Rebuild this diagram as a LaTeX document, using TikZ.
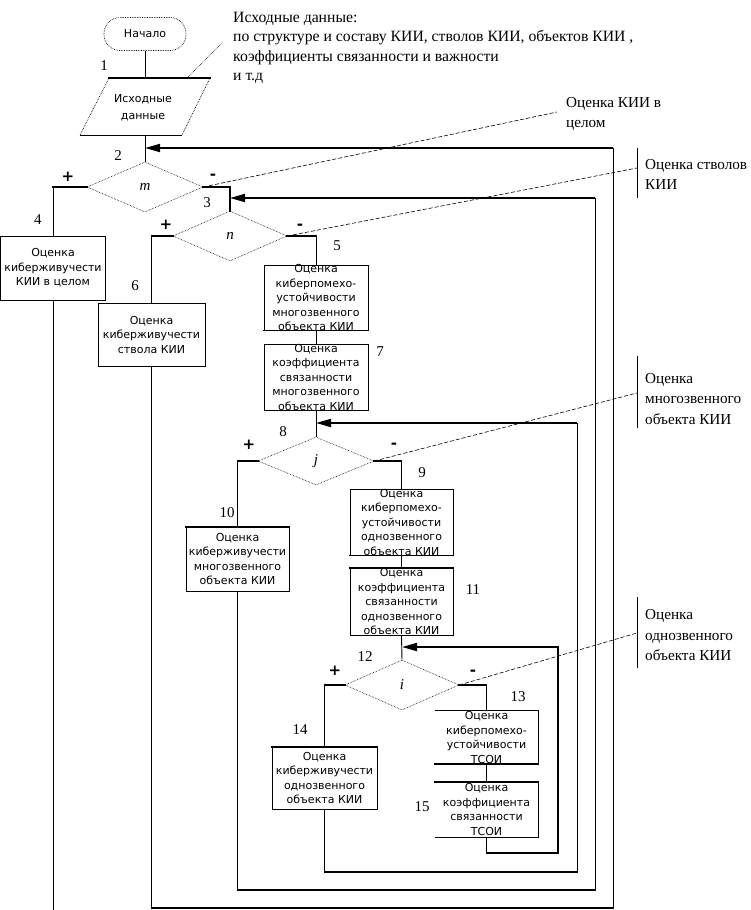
\documentclass[tikz,border=0pt]{standalone}
\usepackage{fontspec}
\setmainfont{Liberation Serif}
\newfontfamily\boxfont{DejaVu Sans}
\usetikzlibrary{shapes.geometric,arrows.meta}
\begin{document}
\begin{tikzpicture}[x=1pt,y=-1pt,
  box/.style={draw, line width=0.8pt, inner sep=0pt},
  nobox/.style={inner sep=0pt},
  edge/.style={line width=0.8pt},
  boxtxt/.style={font=\boxfont\fontsize{11}{14.5}\selectfont, align=center, inner sep=0pt},
  dia/.style={diamond, draw, densely dotted, line width=0.6pt, inner sep=0pt, font=\fontsize{15}{18}\selectfont\itshape},
  conn/.style={line width=0.9pt},
  thk/.style={line width=1.8pt, line cap=rect},
  arr/.style={line width=1.8pt, -{Triangle[length=15pt,width=8pt]}},
  lbl/.style={font=\fontsize{15}{18}\selectfont, inner sep=0pt},
  sgn/.style={font=\boxfont\fontsize{15}{18}\selectfont\bfseries, inner sep=0pt},
  call/.style={line width=0.6pt, dash pattern=on 4pt off 2pt},
  dotcall/.style={line width=0.7pt, densely dotted},
  bar/.style={line width=0.8pt},
  note/.style={font=\fontsize{15.2}{20.5}\selectfont, align=left, inner sep=0pt, anchor=west},
]
\useasboundingbox (0,0) rectangle (750,910);
\fill[white] (0,0) rectangle (750,910);

% ---------- start and data ----------
\node[draw, densely dotted, line width=0.7pt, rounded corners=16pt, minimum width=82pt, minimum height=33pt, inner sep=0pt, font=\boxfont\fontsize{11}{14}\selectfont] (start) at (145,34) {Начало};
\coordinate (pTL) at (109,78);
\coordinate (pTR) at (210,78);
\coordinate (pBR) at (182,135);
\coordinate (pBL) at (80,135);
\coordinate (dTop) at (145,78);
\coordinate (dBot) at (145,135);
\draw[thk] (pTL) -- (pTR);
\draw[conn] (pBL) -- (pBR);
\draw[dotcall] (pTL) -- (pBL) (pTR) -- (pBR);
\node[boxtxt, font=\boxfont\fontsize{11}{17}\selectfont] (data) at (143,108) {Исходные\\данные};
\draw[conn] (start.south) -- (dTop);

\node[note, font=\fontsize{15.7}{19.4}\selectfont] (n1) at (233,48) {Исходные данные:\\по структуре и составу КИИ, стволов КИИ, объектов КИИ ,\\коэффициенты связанности и важности\\и т.д};
\coordinate (c1a) at (187,78);
\coordinate (c1b) at (223,42);
\draw[dotcall] (c1a) -- (c1b);

% ---------- diamonds ----------
\node[dia, minimum width=116pt, minimum height=50pt] (m) at (145,187) {m};
\node[dia, minimum width=114pt, minimum height=50pt] (n) at (230,236) {n};
\node[dia, minimum width=116pt, minimum height=48pt] (j) at (316,461) {j};
\node[dia, minimum width=114pt, minimum height=50pt] (i) at (402,685) {i};

\coordinate (jm) at (145,148);
\coordinate (jn) at (230,198);
\coordinate (jj) at (316,423);
\coordinate (ji) at (402,647);

% ---------- boxes ----------
\node[box, minimum width=105pt, minimum height=64pt] (b4) at (53,268) {};
\node[boxtxt] (t4) at (b4.center) {Оценка\\киберживучести\\КИИ в целом};
\node[box, minimum width=107pt, minimum height=63pt] (b6) at (151.5,334.5) {};
\node[boxtxt] (t6) at (b6.center) {Оценка\\киберживучести\\ствола КИИ};
\node[box, minimum width=104pt, minimum height=65pt] (b5) at (316,297.5) {};
\node[boxtxt] (t5) at (b5.center) {Оценка\\киберпомехо-\\устойчивости\\многозвенного\\объекта КИИ};
\node[box, minimum width=104pt, minimum height=66pt] (b7) at (316,377) {};
\node[boxtxt] (t7) at (b7.center) {Оценка\\коэффициента\\связанности\\многозвенного\\объекта КИИ};
\node[box, minimum width=103pt, minimum height=64pt] (b10) at (237.5,559) {};
\node[boxtxt] (t10) at (b10.center) {Оценка\\киберживучести\\многозвенного\\объекта КИИ};
\node[box, minimum width=103pt, minimum height=66pt] (b9) at (401.5,522) {};
\node[boxtxt] (t9) at (b9.center) {Оценка\\киберпомехо-\\устойчивости\\однозвенного\\объекта КИИ};
\node[box, minimum width=103pt, minimum height=67pt] (b11) at (401.5,601.5) {};
\node[boxtxt] (t11) at (b11.center) {Оценка\\коэффициента\\связанности\\однозвенного\\объекта КИИ};
\node[box, minimum width=105pt, minimum height=62pt] (b14) at (324.5,778) {};
\node[boxtxt] (t14) at (b14.center) {Оценка\\киберживучести\\однозвенного\\объекта КИИ};
\node[nobox, minimum width=103pt, minimum height=53pt] (b13) at (486.5,737.5) {};
\draw[edge] (b13.north west) -- (b13.north east) -- (b13.south east) -- (b13.south west);
\node[boxtxt] (t13) at (b13.center) {Оценка\\киберпомехо-\\устойчивости\\ТСОИ};
\node[nobox, minimum width=103pt, minimum height=55pt] (b15) at (486.5,809.5) {};
\draw[edge] (b15.north west) -- (b15.north east) -- (b15.south east) -- (b15.south west);
\node[boxtxt] (t15) at (b15.center) {Оценка\\коэффициента\\связанности\\ТСОИ};

% thick box edges
\draw[thk] (b5.south west) -- (b5.south east);
\draw[thk] (b9.south west) -- (b9.south east);
\draw[thk] (b11.north west) -- (b11.north east);
\draw[thk] (b13.south west) -- (b13.south east);
\draw[thk] (b14.north west) -- (b14.north east);
\draw[thk] (b15.north west) -- (b15.north east);
\draw[thk] (b10.north west) -- (b10.north east);

% ---------- connectors ----------
\draw[conn] (dBot) -- (m.north);
\draw[conn] (m.west) -| (b4.north);
\draw[thk] (m.west) -- (m.west -| b4.north);
\draw[thk] (m.east) -| (n.north);
\draw[conn] (n.west) -| (b6.north);
\draw[thk] (n.west) -- (n.west -| b6.north);
\draw[conn] (n.east) -| (b5.north);
\draw[thk] (n.east) -- (n.east -| b5.north);
\draw[conn] (b5.south) -- (b7.north);
\draw[conn] (b7.south) -- (j.north);
\draw[conn] (j.west) -| (b10.north);
\draw[thk] (j.west) -- (j.west -| b10.north);
\draw[conn] (j.east) -| (b9.north);
\draw[thk] (j.east) -- (j.east -| b9.north);
\draw[conn] (b9.south) -- (b11.north);
\draw[conn] (b11.south) -- (i.north);
\draw[conn] (i.west) -| (b14.north);
\draw[thk] (i.west) -- (i.west -| b14.north);
\draw[conn] (i.east) -| (b13.north);
\draw[thk] (i.east) -- (i.east -| b13.north);
\draw[conn] (b13.south) -- (b15.north);

% exit from b4
\coordinate (e4) at (53,910);
\draw[conn] (b4.south) -- (e4);

% loop A: b6 -> m
\coordinate (A1) at (151.5,908);
\coordinate (A2) at (613,908);
\coordinate (A3) at (613,148);
\draw[conn] (b6.south) -- (A1);
\draw[thk] (A1) -- (A2);
\draw[conn] (A2) -- (A3);
\draw[arr] (A3) -- (jm);
% loop B: b10 -> n
\coordinate (B1) at (237.5,890);
\coordinate (B2) at (595,890);
\coordinate (B3) at (595,198);
\draw[thk] (b10.south) -- (B1) -- (B2);
\draw[conn] (B2) -- (B3);
\draw[arr] (B3) -- (jn);
% loop C: b14 -> j
\coordinate (C1) at (324.5,872);
\coordinate (C2) at (577,872);
\coordinate (C3) at (577,423);
\draw[thk] (b14.south) -- (C1) -- (C2);
\draw[conn] (C2) -- (C3);
\draw[arr] (C3) -- (jj);
% loop D: b15 -> i
\coordinate (D1) at (486.5,853);
\coordinate (D2) at (558,853);
\coordinate (D3) at (558,647);
\draw[conn] (b15.south) -- (D1);
\draw[thk] (D1) -- (D2) -- (D3);
\draw[arr] (D3) -- (ji);

% ---------- labels ----------
\node[lbl] (l1) at (104,66) {1};
\node[lbl] (l2) at (118,156) {2};
\node[lbl] (l3) at (207,203) {3};
\node[lbl] (l4) at (38,220) {4};
\node[lbl] (l5) at (337,246) {5};
\node[lbl] (l6) at (135,286) {6};
\node[lbl] (l7) at (380,352) {7};
\node[lbl] (l8) at (283,432) {8};
\node[lbl] (l9) at (422,473) {9};
\node[lbl] (l10) at (227,513) {10};
\node[lbl] (l11) at (473,590) {11};
\node[lbl] (l12) at (365,657) {12};
\node[lbl] (l13) at (518,697) {13};
\node[lbl] (l14) at (300,730) {14};
\node[lbl] (l15) at (422,807) {15};

\node[sgn] (s1) at (68,177) {+};
\node[sgn] (s2) at (213,177) {-};
\node[sgn] (s3) at (166,225) {+};
\node[sgn] (s4) at (300,227) {-};
\node[sgn] (s5) at (249,445) {+};
\node[sgn] (s6) at (394,446) {-};
\node[sgn] (s7) at (335,671) {+};
\node[sgn] (s8) at (473,673) {-};

% ---------- callouts ----------
\node[note] (n2) at (566,114) {Оценка КИИ в\\целом};
\coordinate (c2) at (557,112);
\draw[call] (m.east) -- (c2);

\node[note] (n3) at (645,174.5) {Оценка стволов\\КИИ};
\coordinate (k3a) at (637,148);
\coordinate (k3b) at (637,198);
\coordinate (c3) at (637,168);
\draw[bar] (k3a) -- (k3b);
\draw[call] (n.east) -- (c3);

\node[note] (n4) at (645,399) {Оценка\\многозвенного\\объекта КИИ};
\coordinate (k4a) at (637,356);
\coordinate (k4b) at (637,428);
\coordinate (c4) at (637,393);
\draw[bar] (k4a) -- (k4b);
\draw[call] (j.east) -- (c4);

\node[note] (n5) at (645,635.5) {Оценка\\однозвенного\\объекта КИИ};
\coordinate (k5a) at (637,597);
\coordinate (k5b) at (637,668);
\coordinate (c5) at (637,633);
\draw[bar] (k5a) -- (k5b);
\draw[call] (i.east) -- (c5);
\end{tikzpicture}
\end{document}
